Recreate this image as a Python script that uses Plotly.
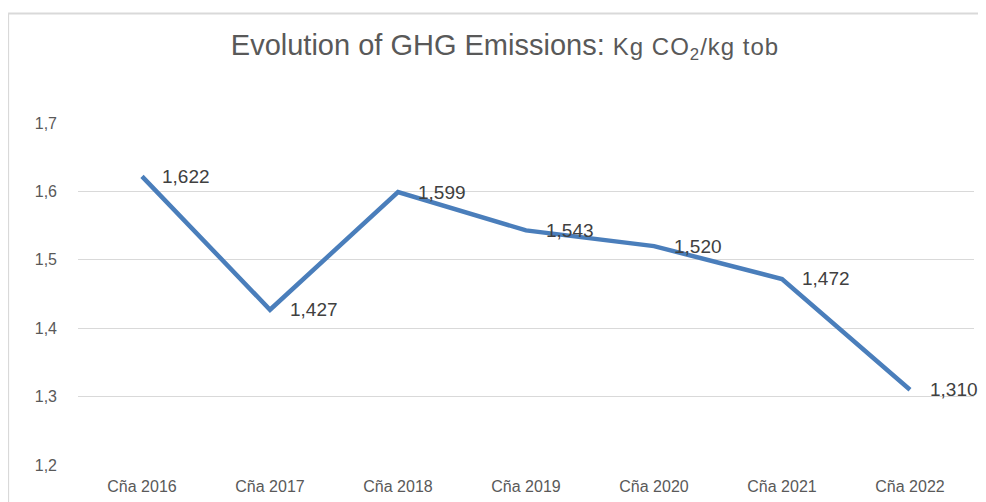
import plotly.graph_objects as go

# campaign labels and emissions (kg CO2 / kg tobacco)
campaigns = ["Cña 2016", "Cña 2017", "Cña 2018", "Cña 2019", "Cña 2020", "Cña 2021", "Cña 2022"]
emissions = [1.622, 1.427, 1.599, 1.543, 1.520, 1.472, 1.310]
ytick_vals = [1.2, 1.3, 1.4, 1.5, 1.6, 1.7]

FONT = "Liberation Sans"

fig = go.Figure(go.Scatter(
    x=campaigns, y=emissions, mode="lines",
    line=dict(color="#4a7ebb", width=4.5),
    hoverinfo="skip",
))

# data labels to the right of each point, comma decimals
for c, v in zip(campaigns, emissions):
    fig.add_annotation(
        x=c, y=v, text=f"{v:.3f}".replace(".", ","),
        showarrow=False, xanchor="left", yanchor="middle", xshift=18,
        font=dict(family=FONT, size=19, color="#404040"),
    )

# chart frame (top and left edges, like the Excel export)
fig.add_shape(type="line", xref="paper", yref="paper",
              x0=-0.078, x1=1.03, y0=1.32, y1=1.32,
              line=dict(color="#d9d9d9", width=2))
fig.add_shape(type="line", xref="paper", yref="paper",
              x0=-0.078, x1=-0.078, y0=1.32, y1=-0.2,
              line=dict(color="#d9d9d9", width=2))

fig.update_layout(
    width=986, height=502,
    margin=dict(l=70, r=20, t=115, b=45),
    paper_bgcolor="white", plot_bgcolor="white",
    showlegend=False,
    separators=", ",
    title=dict(
        text="Evolution of GHG Emissions: <span style='font-size:24px;letter-spacing:1px'>Kg CO<sub>2</sub>/kg tob</span>",
        x=497 / 986, xanchor="center", y=1 - 37 / 502, yanchor="middle",
        font=dict(family=FONT, size=29, color="#595959"),
    ),
    xaxis=dict(
        range=[-0.5, 6.5], showgrid=False, zeroline=False, showline=False,
        ticks="", ticklabelstandoff=10,
        tickfont=dict(family=FONT, size=16, color="#595959"),
    ),
    yaxis=dict(
        range=[1.2, 1.7], tickvals=ytick_vals, tickformat=".1f",
        showgrid=True, gridcolor="#d9d9d9", gridwidth=1, zeroline=False,
        showline=False, ticks="", ticklabelstandoff=20,
        tickfont=dict(family=FONT, size=16, color="#595959"),
    ),
)

fig.write_html("out.html")
